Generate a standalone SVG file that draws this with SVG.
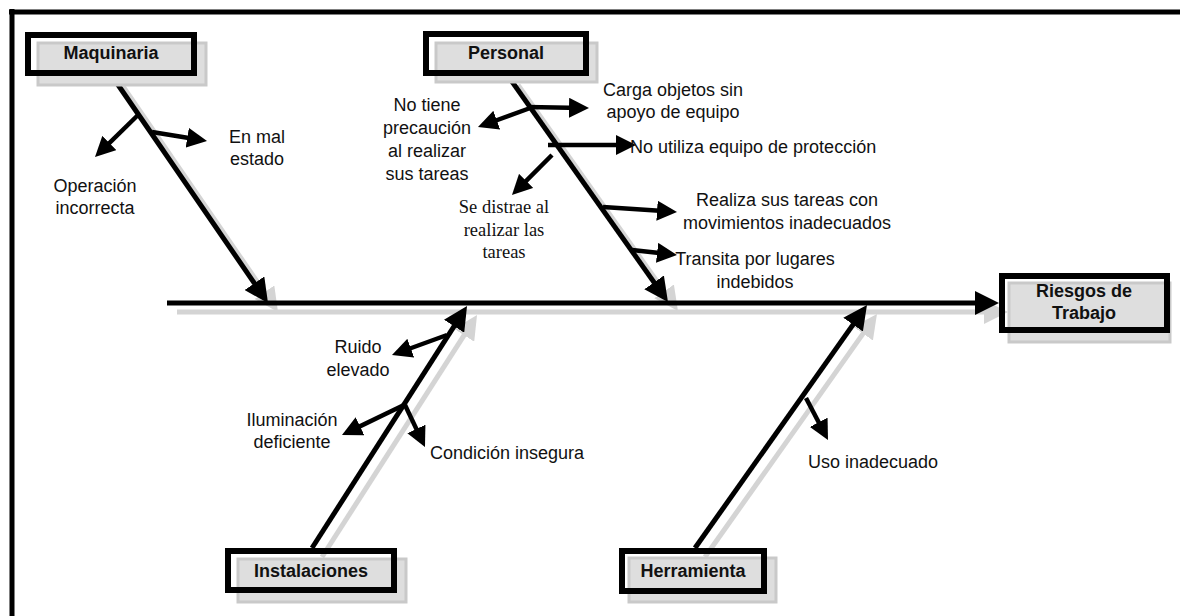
<svg xmlns="http://www.w3.org/2000/svg" width="1180" height="616" viewBox="0 0 1180 616">
<style>
.t{font-family:"Liberation Sans",Arial,sans-serif;font-size:18px;fill:#111}
.c{text-anchor:middle}
.b{font-weight:bold;font-size:18px}
.s{font-family:"Liberation Serif","Times New Roman",serif;font-size:18.5px;fill:#111;text-anchor:middle}
.box{fill:none;stroke:#000;stroke-width:6}
.sh{fill:#dedede;stroke:#c9c9c9;stroke-width:3}
.ln{stroke:#000;stroke-width:5;fill:none}
.bone{stroke:#000;stroke-width:5;fill:none;marker-end:url(#big)}
.sub{stroke:#000;stroke-width:4.5;fill:none;marker-end:url(#ah)}
.shl{stroke:#d4d4d4;stroke-width:5;fill:none;marker-end:url(#bigs)}
</style>
<defs>
<marker id="ah" viewBox="0 0 20 20" refX="14" refY="10" markerWidth="20" markerHeight="20" markerUnits="userSpaceOnUse" orient="auto"><path d="M0,0 L20,10 L0,20 z" fill="#000"/></marker>
<marker id="big" viewBox="0 0 24 24" refX="18" refY="12" markerWidth="24" markerHeight="24" markerUnits="userSpaceOnUse" orient="auto"><path d="M0,0 L24,12 L0,24 z" fill="#000"/></marker>
<marker id="bigs" viewBox="0 0 24 24" refX="18" refY="12" markerWidth="24" markerHeight="24" markerUnits="userSpaceOnUse" orient="auto"><path d="M0,0 L24,12 L0,24 z" fill="#d4d4d4"/></marker>
</defs>
<rect width="1180" height="616" fill="#fff"/>
<g id="frame">
<line class="ln" x1="9" y1="12" x2="1180" y2="12" stroke-width="6"/>
<line class="ln" x1="12" y1="9" x2="12" y2="616"/>
</g>
<g id="shadows">
<line class="shl" x1="177" y1="312" x2="1002" y2="312"/>
<line class="shl" x1="122" y1="85" x2="274.6" y2="307.1"/>
<line class="shl" x1="518" y1="85" x2="674.5" y2="306.1"/>
<line class="shl" x1="322" y1="557" x2="473.8" y2="320.1"/>
<line class="shl" x1="705" y1="557" x2="873.5" y2="318.9"/>
</g>
<g id="connectors">
<line class="bone" x1="167" y1="303" x2="993" y2="303"/>
<line class="bone" x1="112" y1="76" x2="264.6" y2="298.1"/>
<line class="bone" x1="508" y1="76" x2="664.5" y2="297.1"/>
<line class="bone" x1="312" y1="548" x2="463.8" y2="311.1"/>
<line class="bone" x1="695" y1="548" x2="863.5" y2="309.9"/>
<line class="sub" x1="138" y1="115" x2="99.3" y2="152.8"/>
<line class="sub" x1="152" y1="132" x2="201.1" y2="140"/>
<line class="sub" x1="533" y1="107" x2="483.6" y2="125"/>
<line class="sub" x1="527" y1="107" x2="583" y2="108"/>
<line class="sub" x1="548" y1="145" x2="630" y2="145"/>
<line class="sub" x1="552" y1="155" x2="516.2" y2="190.8"/>
<line class="sub" x1="603" y1="207" x2="671" y2="211.6"/>
<line class="sub" x1="632" y1="250" x2="671" y2="254.3"/>
<line class="sub" x1="447" y1="335" x2="397.6" y2="353"/>
<line class="sub" x1="404" y1="405" x2="347.4" y2="432.4"/>
<line class="sub" x1="405" y1="405" x2="422.4" y2="441.6"/>
<line class="sub" x1="806" y1="398" x2="825.2" y2="434.7"/>
</g>
<g id="maquinaria">
<rect class="sh" x="38" y="43" width="168" height="42"/>
<rect class="box" x="28" y="35" width="166" height="38"/>
<text class="t c b" x="111" y="59">Maquinaria</text>
</g>
<g id="personal">
<rect class="sh" x="436" y="43" width="161" height="39"/>
<rect class="box" x="426" y="34" width="160" height="39"/>
<text class="t c b" x="506" y="59">Personal</text>
</g>
<g id="riesgos">
<rect class="sh" x="1009" y="283" width="161" height="59"/>
<rect class="box" x="1002" y="276" width="165" height="54"/>
<text class="t c b" x="1084" y="297">Riesgos de</text>
<text class="t c b" x="1084" y="319">Trabajo</text>
</g>
<g id="instalaciones">
<rect class="sh" x="238" y="559" width="168" height="43"/>
<rect class="box" x="228" y="551" width="166" height="39"/>
<text class="t c b" x="311" y="577">Instalaciones</text>
</g>
<g id="herramienta">
<rect class="sh" x="629" y="558" width="147" height="44"/>
<rect class="box" x="622" y="551" width="142" height="40"/>
<text class="t c b" x="693" y="577">Herramienta</text>
</g>
<g id="causas">
<text class="t c" x="257" y="143">En mal</text>
<text class="t c" x="257" y="165">estado</text>
<text class="t c" x="95" y="192">Operación</text>
<text class="t c" x="95" y="214">incorrecta</text>
<text class="t c" x="427" y="111">No tiene</text>
<text class="t c" x="427" y="134">precaución</text>
<text class="t c" x="427" y="157">al realizar</text>
<text class="t c" x="427" y="180">sus tareas</text>
<text class="t c" x="673" y="96">Carga objetos sin</text>
<text class="t c" x="673" y="118">apoyo de equipo</text>
<text class="t" x="630" y="153">No utiliza equipo de protección</text>
<text class="s" x="504" y="213">Se distrae al</text>
<text class="s" x="504" y="236">realizar las</text>
<text class="s" x="504" y="258">tareas</text>
<text class="t c" x="787" y="206">Realiza sus tareas con</text>
<text class="t c" x="787" y="229">movimientos inadecuados</text>
<text class="t c" x="755" y="265">Transita por lugares</text>
<text class="t c" x="755" y="288">indebidos</text>
<text class="t c" x="358" y="353">Ruido</text>
<text class="t c" x="358" y="376">elevado</text>
<text class="t c" x="292" y="426">Iluminación</text>
<text class="t c" x="292" y="448">deficiente</text>
<text class="t" x="430" y="459">Condición insegura</text>
<text class="t" x="808" y="468">Uso inadecuado</text>
</g>
</svg>
